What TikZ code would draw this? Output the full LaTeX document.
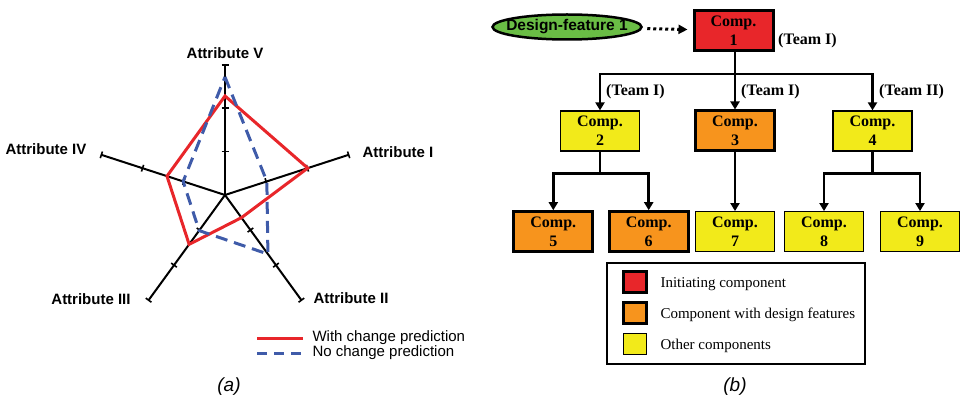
\documentclass[tikz,border=0pt]{standalone}
\usepackage{fontspec}
\setmainfont{Liberation Serif}
\setsansfont{Liberation Sans}
\usetikzlibrary{arrows.meta,shapes.geometric,positioning}
\definecolor{predred}{HTML}{E8262A}
\definecolor{predblue}{HTML}{3F5BA9}
\definecolor{initred}{HTML}{E8262A}
\definecolor{featorange}{HTML}{F7941D}
\definecolor{otheryellow}{HTML}{F2EA1A}
\definecolor{featgreen}{HTML}{6ABD45}
\tikzset{
  attr/.style={font=\sffamily\bfseries\fontsize{15}{18}\selectfont},
  keytext/.style={anchor=west, font=\sffamily\fontsize{15}{18}\selectfont},
  sublabel/.style={font=\sffamily\itshape\fontsize{19}{22}\selectfont},
  comp/.style={draw, line width=1.2pt, minimum width=79pt, minimum height=40pt, inner sep=0pt,
    align=center, font=\bfseries\fontsize{16}{19}\selectfont},
  heavy/.style={line width=3pt},
  team/.style={anchor=west, inner sep=0pt, font=\bfseries\fontsize{16}{19}\selectfont},
  link/.style={line width=2.8pt, -{Triangle[length=8pt,width=9pt]}},
  swatch/.style={draw, minimum width=23pt, minimum height=21pt, inner sep=0pt},
}
\begin{document}
\begin{tikzpicture}[x=1pt, y=-1pt]
  \useasboundingbox (0,0) rectangle (961,406);

  % (a) radar chart
  \begin{scope}[shift={(225,195)}, yscale=-1]
    \foreach \a in {90,18,-54,-126,162} {
      \draw[line width=2pt] (0,0) -- (\a:130);
      \foreach \r in {43.3,86.7,130}
        \draw[line width=1.6pt] ([shift={(\a+90:3.5)}]\a:\r) -- ([shift={(\a-90:3.5)}]\a:\r);
    }
    \draw[predred, line width=3pt, line join=miter]
      (90:99) -- (18:87) -- (-54:28) -- (-126:61) -- (162:61) -- cycle;
    \draw[predblue, line width=3pt, dash pattern=on 12pt off 7pt]
      (90:118) -- (18:44) -- (-54:73) -- (-126:44) -- (162:44) -- cycle;
  \end{scope}
  \node[attr] (attrV) at (225,53) {Attribute V};
  \node[attr] (attrI) at (398,152) {Attribute I};
  \node[attr] (attrII) at (351,298) {Attribute II};
  \node[attr] (attrIII) at (91,299) {Attribute III};
  \node[attr] (attrIV) at (46,149) {Attribute IV};

  \draw[predred, line width=3pt] (257,338) -- (303,338);
  \node[keytext] (keywith) at (309,338) {With change prediction};
  \draw[predblue, line width=3pt, dash pattern=on 10pt off 7pt] (257,353) -- (303,353);
  \node[keytext] (keyno) at (309,353) {No change prediction};
  \node[sublabel] (suba) at (229,387) {(a)};

  % (b) propagation tree
  \node[ellipse, draw, line width=2.5pt, fill=featgreen, minimum width=149pt, minimum height=25pt,
    inner xsep=-20pt, inner ysep=-5pt, font=\sffamily\bfseries\fontsize{15.5}{19}\selectfont] (feat) at (567,27) {Design-feature 1};
  \node[comp, heavy, fill=initred] (c1) at (733.5,30.5) {Comp.\\1};
  \draw[line width=3pt, dash pattern=on 3pt off 3pt, -{Triangle[length=9pt,width=9pt]},
    shorten <=5pt, shorten >=5pt] (feat) -- (c1);
  \node[team] (t1) at (778,41) {(Team I)};

  \node[comp, fill=otheryellow] (c2) at (600,131) {Comp.\\2};
  \node[comp, heavy, fill=featorange] (c3) at (735,131) {Comp.\\3};
  \node[comp, fill=otheryellow] (c4) at (872.5,131) {Comp.\\4};
  \coordinate (bus) at (735,74);
  \draw[link] (c1.south -| bus) -- (c3);
  \draw[link] (bus) -| (c2);
  \draw[link] (bus) -| (c4);
  \node[team] (t2) at (606,92) {(Team I)};
  \node[team] (t3) at (741,92) {(Team I)};
  \node[team] (t4) at (879,92) {(Team II)};

  \node[comp, heavy, fill=featorange] (c5) at (553.3,231.7) {Comp.\\5};
  \node[comp, heavy, fill=featorange] (c6) at (648.7,231.7) {Comp.\\6};
  \node[comp, fill=otheryellow] (c7) at (735,231.7) {Comp.\\7};
  \node[comp, fill=otheryellow] (c8) at (824,231.7) {Comp.\\8};
  \node[comp, fill=otheryellow] (c9) at (920,231.7) {Comp.\\9};
  \coordinate (split2) at (600,173.3);
  \coordinate (split4) at (872.5,173.3);
  \draw[line width=2.8pt] (c2) -- (split2);
  \draw[link] (split2) -| (c5);
  \draw[link] (split2) -| (c6);
  \draw[link] (c3) -- (c7);
  \draw[line width=2.8pt] (c4) -- (split4);
  \draw[link] (split4) -| (c8);
  \draw[link] (split4) -| (c9);

  \node[draw, line width=1.5pt, minimum width=258pt, minimum height=101pt] (legend) at (736,313.7) {};
  \node[swatch, heavy, fill=initred] (swred) at (635,281.7) {};
  \node[swatch, heavy, fill=featorange] (sworange) at (635,312.8) {};
  \node[swatch, line width=1.2pt, fill=otheryellow] (swyellow) at (635,343.7) {};
  \node[anchor=west, font=\fontsize{15}{18}\selectfont] (keyinit) at (657,284) {Initiating component};
  \node[anchor=west, font=\fontsize{15}{18}\selectfont] (keyfeat) at (657,315) {Component with design features};
  \node[anchor=west, font=\fontsize{15}{18}\selectfont] (keyother) at (657,345.5) {Other components};
  \node[sublabel] (subb) at (735,387) {(b)};
\end{tikzpicture}
\end{document}
